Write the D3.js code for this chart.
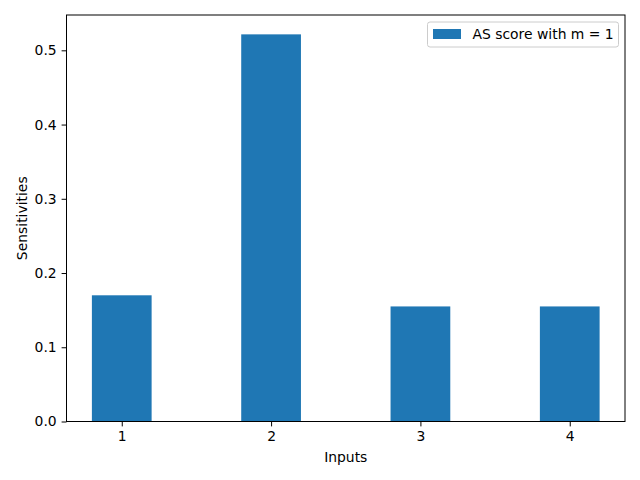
<!DOCTYPE html>
<head>
<meta charset="utf-8">
<style>
body { margin: 0; background: #fff; }
text { font-family: "DejaVu Sans", sans-serif; font-size: 13.9px; fill: #000; }
.axis path, .axis line { stroke: #000; stroke-width: 1; }
</style>
<script src="https://cdn.jsdelivr.net/npm/d3@7"></script>
</head>
<body>
<svg class="chart" width="640" height="480"></svg>
<script>
// Data.
var inputs = [1, 2, 3, 4];
var sensitivities = [0.17, 0.5215, 0.155, 0.155];
var yTicks = [0.0, 0.1, 0.2, 0.3, 0.4, 0.5];
var legendLabel = "AS score with m = 1";

var svg = d3.select(".chart"),
  margin = {top: 15, right: 15, bottom: 58, left: 66.5},
  width = 640 - margin.left - margin.right,
  height = 480 - margin.top - margin.bottom - 0.5,
  g = svg.append("g").attr("transform", "translate(" + margin.left + "," + margin.top + ")");

var barWidth = 0.4;
// matplotlib style margins: 5% of data range on each side.
var xMin = d3.min(inputs) - barWidth / 2, xMax = d3.max(inputs) + barWidth / 2;
var xPad = (xMax - xMin) * 0.05;
var x = d3.scaleLinear().domain([xMin - xPad, xMax + xPad]).range([0, width]);
var y = d3.scaleLinear().domain([0, d3.max(sensitivities) * 1.05]).range([height, 0]);

// Bars.
g.selectAll(".bar")
  .data(inputs)
  .enter().append("rect")
  .attr("class", "bar")
  .attr("x", function(d) { return x(d - barWidth / 2); })
  .attr("width", function(d) { return x(d + barWidth / 2) - x(d - barWidth / 2); })
  .attr("y", function(d, i) { return y(sensitivities[i]); })
  .attr("height", function(d, i) { return height - y(sensitivities[i]); })
  .attr("fill", "#1f77b4");

// Axes.
var xAxis = g.append("g")
  .attr("class", "axis")
  .attr("transform", "translate(0," + height + ")")
  .call(d3.axisBottom(x).tickValues(inputs).tickFormat(d3.format("d")).tickSize(4.9).tickPadding(4.9).tickSizeOuter(0));
var yAxis = g.append("g")
  .attr("class", "axis")
  .call(d3.axisLeft(y).tickValues(yTicks).tickFormat(d3.format(".1f")).tickSize(4.9).tickPadding(4.9).tickSizeOuter(0));
g.selectAll(".axis .domain").remove();
g.selectAll(".axis text").attr("font-family", null).attr("font-size", null);

// Frame round the plot area.
g.append("rect")
  .attr("width", width).attr("height", height)
  .attr("fill", "none").attr("stroke", "#000").attr("stroke-width", 1);

// Axis labels.
svg.append("text")
  .attr("x", margin.left + width / 2)
  .attr("y", 462)
  .attr("text-anchor", "middle")
  .text("Inputs");
svg.append("text")
  .attr("transform", "translate(27," + (margin.top + height / 2) + ") rotate(-90)")
  .attr("text-anchor", "middle")
  .text("Sensitivities");

// Legend.
var legend = svg.append("g").attr("transform", "translate(427.5,22)");
legend.append("rect")
  .attr("width", 191).attr("height", 25).attr("rx", 2.5)
  .attr("fill", "#fff").attr("fill-opacity", 0.8)
  .attr("stroke", "#ccc").attr("stroke-width", 1);
legend.append("rect")
  .attr("x", 5.5).attr("y", 7).attr("width", 28).attr("height", 10)
  .attr("fill", "#1f77b4");
legend.append("text")
  .attr("x", 45).attr("y", 16.5)
  .text(legendLabel);
</script>
</body>
